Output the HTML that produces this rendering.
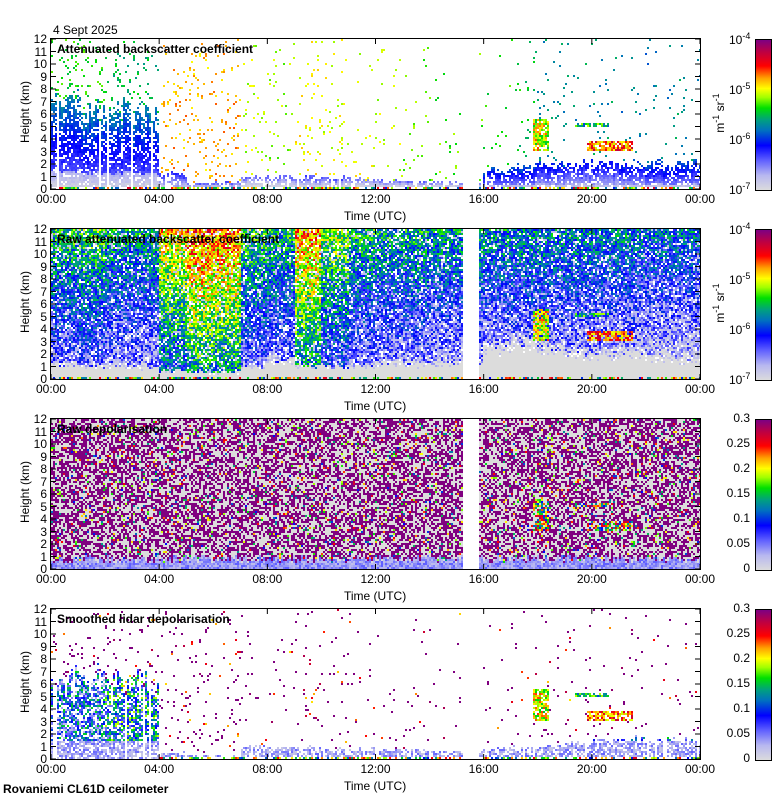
<!DOCTYPE html>
<html><head><meta charset="utf-8">
<style>
body{margin:0;background:#fff;width:780px;height:800px;overflow:hidden;position:relative;font-family:"Liberation Sans",sans-serif;}
.t{position:absolute;font-size:12px;color:#000;white-space:nowrap}
canvas{position:absolute;image-rendering:pixelated}
</style></head><body>
<div id="root"></div>
<script>
// ---- data arrays (hourly profiles, 0..23 h) ----
const hours = [0,1,2,3,4,5,6,7,8,9,10,11,12,13,14,15,16,17,18,19,20,21,22,23];
const p1LayerTop = [7,6.5,6.2,6,1.2,0.5,0.5,1,1,1,0.9,0.8,0.7,0.6,0.6,0.5,1.5,1.8,2,2,2,2,2,2];
const p1LayerVal = [0.3,0.3,0.3,0.3,0.15,0.1,0.1,0.08,0.1,0.12,0.1,0.08,0.08,0.08,0.08,0.08,0.25,0.25,0.22,0.2,0.2,0.22,0.25,0.25];
const p1SpeckDens = [0.15,0.15,0.14,0.14,0.08,0.1,0.1,0.06,0.05,0.08,0.06,0.04,0.03,0.03,0.025,0.025,0.03,0.04,0.05,0.04,0.04,0.04,0.035,0.035];
const p1SpeckVal = [0.55,0.55,0.5,0.5,0.74,0.72,0.74,0.64,0.62,0.68,0.66,0.66,0.64,0.6,0.58,0.58,0.55,0.52,0.45,0.45,0.45,0.42,0.42,0.45];
const p2Base = [0.33,0.36,0.3,0.3,0.52,0.62,0.6,0.35,0.32,0.58,0.42,0.32,0.3,0.3,0.28,0.28,0.26,0.26,0.26,0.26,0.24,0.24,0.22,0.22];
const p2GreyTop = [1.2,1,1,1,0.6,0.5,0.5,1,1.5,1,1,1,1.2,1.2,1.2,1.2,2.5,3,2.5,2,2,2,1.8,1.5];
const p4LayerTop = [6.5,6.5,6,6,0.5,0.3,0.3,1,0.9,0.9,0.8,0.8,0.7,0.7,0.6,0.6,0.8,1,1,1.2,1.5,1.6,1.5,1.5];
const p4LayerVal = [0.3,0.3,0.4,0.4,0.1,0.05,0.05,0.25,0.2,0.2,0.2,0.2,0.2,0.22,0.22,0.22,0.25,0.25,0.28,0.3,0.35,0.35,0.3,0.3];
const cloudT0 = [17.8,19.8,19.4];
const cloudT1 = [18.4,21.5,20.6];
const cloudH0 = [3,3.1,5.0];
const cloudH1 = [5.6,3.9,5.3];
const cloudVal = [0.66,0.78,0.5];
const gapStart = 15.25, gapEnd = 15.8;
const xTicks = ["00:00","04:00","08:00","12:00","16:00","20:00","00:00"];
const yTicks = [0,1,2,3,4,5,6,7,8,9,10,11,12];
const depTicks = ["0","0.05","0.1","0.15","0.2","0.25","0.3"];
const titles = ["Attenuated backscatter coefficient","Raw attenuated backscatter coefficient","Raw depolarisation","Smoothed lidar depolarisation"];

// ---- layout ----
const X0=51, X1=700, PH=150, tops=[39,229,419,609];
const xs = t => X0 + (t/24)*(X1-X0);
const ys = (h,top) => top + PH - (h/12)*PH;

const stops=[[0,[220,220,220]],[0.1,[184,184,240]],[0.2,[96,96,255]],[0.3,[0,0,255]],[0.4,[0,112,192]],[0.47,[0,160,128]],[0.55,[0,224,0]],[0.62,[160,255,0]],[0.68,[255,255,0]],[0.75,[255,160,0]],[0.83,[255,0,0]],[0.92,[192,0,64]],[1,[128,0,128]]];
function cmap(v){v=Math.max(0,Math.min(1,v));for(let i=1;i<stops.length;i++){if(v<=stops[i][0]){const a=stops[i-1],b=stops[i],f=(v-a[0])/(b[0]-a[0]);return a[1].map((c,k)=>Math.round(c+(b[1][k]-c)*f));}}return stops[stops.length-1][1];}
function hash(a,b,c){let h=(a*374761393+b*668265263+c*2147483647)|0;h=(h^(h>>>13))*1274126177|0;h^=h>>>16;return (h>>>0)/4294967295;}
function prof(arr,t){const i=Math.min(23,Math.floor(t));return arr[i];}
function inCloud(t,h){for(let i=0;i<cloudT0.length;i++){if(t>=cloudT0[i]&&t<=cloudT1[i]&&h>=cloudH0[i]&&h<=cloudH1[i])return cloudVal[i];}return -1;}

function cellValue(p,t,h,i,j){
  const r=hash(i,j,p+1), r2=hash(j,i,p+7), col=hash(i,0,p+3);
  if(p===0||p===3){
    if(h<0.2 && (t>4 || p===0)) return r<0.6? cmap(0.3+r2*0.6):null;
    const cv=inCloud(t,h); if(cv>=0 && r<0.8) return cmap(cv+(r2-0.5)*0.3);
    const top=(p===0?prof(p1LayerTop,t):prof(p4LayerTop,t))*(0.8+col*0.4);
    const lv=p===0?prof(p1LayerVal,t):prof(p4LayerVal,t);
    if(h<top){ if(col<0.05) return null;
      if(p===0){ const f=h/top; const v=f<0.2?0.02+f*0.5:lv+(f-0.5)*0.25; if(r<0.9-f*0.25) return cmap(v+(r2-0.5)*0.05); }
      else { if(r<0.7) return cmap(h<1.5?0.05+r2*0.15:lv+(r2-0.5)*0.5); }
    }
    const d=p===0?prof(p1SpeckDens,t):prof(p1SpeckDens,t)*0.6;
    if(r<d*(1-h/24)) return p===0?cmap(prof(p1SpeckVal,t)+(r2-0.5)*0.1):cmap(r2<0.7?1:r2);
    return null;
  }
  if(p===1){
    const cv=inCloud(t,h); if(cv>=0 && r<0.8) return cmap(cv+(r2-0.5)*0.3);
    if(h<0.2) return r<0.5?cmap(0.3+r2*0.6):cmap(0);
    const gt=prof(p2GreyTop,t)*(0.7+r*0.6);
    if(h<gt) return cmap(0);
    if(r<0.2) return r2<0.5?null:cmap(0.08);
    const v=prof(p2Base,t)+0.18*(h-6)/6+(r2-0.5)*0.3;
    return cmap(v);
  }
  // p===2
  if(h<0.8*(0.6+col*0.8)) return r<0.85?cmap(0.08+r2*0.1):cmap(0.2);
  const cv=inCloud(t,h); if(cv>=0 && r<0.7) return cmap(0.3+r2*0.7);
  if(r<0.48) return cmap(1);
  if(r<0.93) return cmap(0);
  return cmap(0.3+r2*0.6);
}

const root=document.getElementById('root');
function txt(s,x,y,opts){const d=document.createElement('div');d.className='t';d.textContent=s;d.style.left=x+'px';d.style.top=y+'px';if(opts)Object.assign(d.style,opts);root.appendChild(d);return d;}

const CW=2,CH=2;
tops.forEach((top,p)=>{
  const cv=document.createElement('canvas');
  cv.width=X1-X0;cv.height=PH;cv.style.left=X0+'px';cv.style.top=top+'px';
  
  
  root.appendChild(cv);
  const ctx=cv.getContext('2d');const img=ctx.createImageData(cv.width,cv.height);
  for(let i=0;i*CW<cv.width;i++){
    const t=((i*CW+1)/cv.width)*24;
    for(let j=0;j*CH<cv.height;j++){
      const h=12-((j*CH+1)/cv.height)*12;
      let c=null;
      if(!(t>=gapStart&&t<=gapEnd)) c=cellValue(p,t,h,i,j);
      if(!c) c=[255,255,255];
      for(let dx=0;dx<CW;dx++)for(let dy=0;dy<CH;dy++){const x=i*CW+dx,y=j*CH+dy;if(x<cv.width&&y<cv.height){const k=(y*cv.width+x)*4;img.data[k]=c[0];img.data[k+1]=c[1];img.data[k+2]=c[2];img.data[k+3]=255;}}
    }
  }
  ctx.putImageData(img,0,0);

  const ns='http://www.w3.org/2000/svg';
  const svg=document.createElementNS(ns,'svg');svg.setAttribute('width',780);svg.setAttribute('height',800);
  svg.style.position='absolute';svg.style.left='0';svg.style.top='0';
  
  
  let s=`<rect x="${X0-0.5}" y="${top-0.5}" width="${X1-X0+1}" height="${PH+1}" fill="none" stroke="#000"/>`;
  yTicks.forEach(v=>{const y=ys(v,top);s+=`<line x1="${X0}" x2="${X0+5}" y1="${y}" y2="${y}" stroke="#000"/><line x1="${X1-5}" x2="${X1}" y1="${y}" y2="${y}" stroke="#000"/>`;});
  xTicks.forEach((v,k)=>{const x=xs(k*4);s+=`<line x1="${x}" x2="${x}" y1="${top+PH}" y2="${top+PH-5}" stroke="#000"/><line x1="${x}" x2="${x}" y1="${top}" y2="${top+5}" stroke="#000"/>`;});
  svg.innerHTML=s;root.appendChild(svg);

  yTicks.forEach(v=>{const d=txt(String(v),0,ys(v,top)-7,{width:(X0-4)+'px',textAlign:'right'});});
  xTicks.forEach((v,k)=>{const d=txt(v,xs(k*4)-17,top+PH+3,{width:'34px',textAlign:'center'});});
  const xt=txt('Time (UTC)',344,top+PH+20);
  const yt=txt('Height (km)',-10,top+66,{transform:'rotate(-90deg)',width:'70px',textAlign:'center'});
  const ti=txt(titles[p],57,top+3,{fontWeight:'bold'});

  const cb=document.createElement('canvas');cb.width=15;cb.height=PH;cb.style.left='755px';cb.style.top=top+'px';cb.style.border='1px solid #000';cb.style.width='15px';cb.style.height=PH+'px';
  
  
  root.appendChild(cb);const cx=cb.getContext('2d');
  for(let y=0;y<PH;y++){const c=cmap(1-y/PH);cx.fillStyle=`rgb(${c})`;cx.fillRect(0,y,15,1);}
  if(p<2){
    [-4,-5,-6,-7].forEach((e,k)=>{const d=document.createElement('div');d.className='t';d.innerHTML='10<sup style="font-size:9px">'+e+'</sup>';d.style.left='729px';d.style.top=(top+k*50-8)+'px';root.appendChild(d);});
    const u=document.createElement('div');u.className='t';u.innerHTML='m<sup style="font-size:9px">-1</sup> sr<sup style="font-size:9px">-1</sup>';u.style.left='694px';u.style.top=(top+66)+'px';u.style.width='50px';u.style.textAlign='center';u.style.transform='rotate(-90deg)';
    root.appendChild(u);
  } else {
    depTicks.forEach((v,k)=>{const d=txt(v,712,top+PH-k*25-8,{width:'38px',textAlign:'right'});});
  }
});
const dt=txt('4 Sept 2025',53,23);
const st=txt('Rovaniemi CL61D ceilometer',3,782,{fontWeight:'bold'});
</script>
</body></html>
